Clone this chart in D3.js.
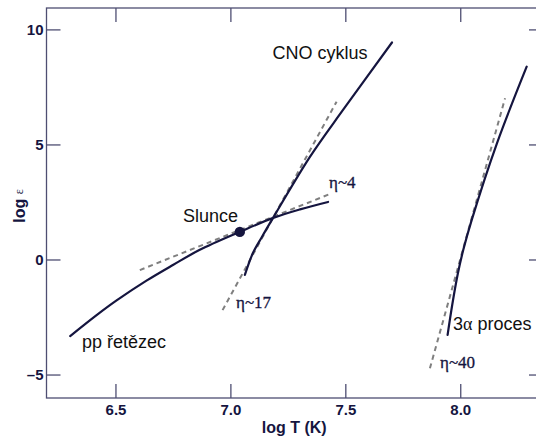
<!DOCTYPE html>
<html><head><meta charset="utf-8">
<script src="https://cdn.jsdelivr.net/npm/d3@7"></script>
<style>
body{margin:0;background:#fff}
svg{display:block;font-family:"Liberation Sans",Arial,sans-serif}
</style></head>
<body><svg id="c" width="536" height="439"></svg>
<script>
// ---- data (log T, log epsilon) ----
const ppT      = [6.303, 6.418, 6.505, 6.635, 6.750, 6.867, 7.041, 7.189, 7.303, 7.425];
const ppLogE   = [-3.33, -2.42, -1.78, -0.92, -0.24, 0.42, 1.20, 1.82, 2.18, 2.50];
const cnoT     = [7.063, 7.098, 7.137, 7.185, 7.346, 7.490, 7.703];
const cnoLogE  = [-0.67, 0.28, 0.98, 1.80, 4.46, 6.50, 9.43];
const taT      = [7.945, 7.965, 7.990, 8.013, 8.050, 8.160, 8.289];
const taLogE   = [-3.28, -1.98, -0.59, 0.41, 1.72, 5.06, 8.38];
// tangent (eta) lines: [T0, logE0, T1, logE1]
const etaPP    = [6.606, -0.46, 7.429, 2.83];
const etaCNO   = [6.966, -2.20, 7.462, 6.86];
const etaTA    = [7.868, -4.73, 8.195, 7.01];
const sun      = [7.041, 1.20];
const xTicks   = [6.5, 7.0, 7.5, 8.0];
const yTicks   = [-5, 0, 5, 10];

const navy = "#15153f", axisCol = "#4e4e72", dashCol = "#7f7f7f";
const svg = d3.select("#c");
const x = d3.scaleLinear().domain([6.2, 8.36]).range([46.5, 543]);
const y = d3.scaleLinear().domain([-6.02, 10.93]).range([398, 8]);
const [x0, x1] = x.range(), [y0, y1] = y.range();

// frame
svg.append("rect").attr("x", x0).attr("y", y1).attr("width", x1 - x0).attr("height", y0 - y1)
  .attr("fill", "none").attr("stroke", axisCol).attr("stroke-width", 1.3);

function styleAxis(g){
  g.select(".domain").remove();
  g.selectAll(".tick line").attr("stroke", axisCol).attr("stroke-width", 1.3);
  g.selectAll(".tick text").attr("fill", navy).attr("font-size", 15).attr("font-weight", "bold")
    .attr("font-family", "Liberation Sans, Arial, sans-serif");
}
const fmtX = d3.format(".1f");
const fmtY = d => d < 0 ? "\u2013" + Math.abs(d) : String(d);
svg.append("g").attr("transform", `translate(0,${y0})`)
  .call(d3.axisBottom(x).tickValues(xTicks).tickFormat(fmtX).tickSizeInner(-14).tickSizeOuter(0).tickPadding(6))
  .call(styleAxis);
svg.append("g").attr("transform", `translate(0,${y1})`)
  .call(d3.axisTop(x).tickValues(xTicks).tickFormat("").tickSizeInner(-14).tickSizeOuter(0))
  .call(styleAxis);
svg.append("g").attr("transform", `translate(${x0},0)`)
  .call(d3.axisLeft(y).tickValues(yTicks).tickFormat(fmtY).tickSizeInner(-14).tickSizeOuter(0).tickPadding(3))
  .call(styleAxis);
svg.append("g").attr("transform", `translate(${x1},0)`)
  .call(d3.axisRight(y).tickValues(yTicks).tickFormat("").tickSizeInner(-14).tickSizeOuter(0))
  .call(styleAxis);

// axis titles
svg.append("text").attr("x", (x0 + x1) / 2 - 0.5).attr("y", 433).attr("text-anchor", "middle")
  .attr("font-size", 16).attr("font-weight", "bold").attr("fill", navy).text("log T (K)");
const yt = svg.append("text").attr("transform", `translate(25,${(y0 + y1) / 2 + 3}) rotate(-90)`)
  .attr("text-anchor", "middle").attr("fill", navy);
yt.append("tspan").attr("font-size", 16).attr("font-weight", "bold").text("log ");
yt.append("tspan").attr("font-size", 12).attr("font-family", "Liberation Serif, Times New Roman, serif")
  .attr("dy", -2).text("\u03b5");

// dashed tangents
[etaPP, etaCNO, etaTA].forEach(e => {
  svg.append("line").attr("x1", x(e[0])).attr("y1", y(e[1])).attr("x2", x(e[2])).attr("y2", y(e[3]))
    .attr("stroke", dashCol).attr("stroke-width", 2).attr("stroke-dasharray", "5,4");
});

// curves
const line = d3.line().x(d => x(d[0])).y(d => y(d[1])).curve(d3.curveCatmullRom.alpha(0.5));
[[ppT, ppLogE], [cnoT, cnoLogE], [taT, taLogE]].forEach(([t, e]) => {
  svg.append("path").datum(t.map((v, i) => [v, e[i]])).attr("d", line)
    .attr("fill", "none").attr("stroke", navy).attr("stroke-width", 2.2).attr("stroke-linecap", "round");
});

// sun
svg.append("circle").attr("cx", x(sun[0])).attr("cy", y(sun[1])).attr("r", 5.2).attr("fill", navy);

// labels
const lab = (px, py, txt, serif, size) => svg.append("text").attr("x", px).attr("y", py)
  .attr("font-size", size || 18).attr("fill", serif ? navy : "#111")
  .attr("font-family", serif ? "Liberation Serif, Times New Roman, serif" : "Liberation Sans, Arial, sans-serif")
  .text(txt);
lab(272.5, 58.5, "CNO cyklus");
lab(183, 221.5, "Slunce");
lab(82, 348, "pp \u0159et\u011bzec");
const ta = lab(453, 330, "");
ta.append("tspan").text("3");
ta.append("tspan").attr("font-family", "Liberation Serif, Times New Roman, serif").text("\u03b1");
ta.append("tspan").text(" proces");
lab(329, 188, "\u03b7~4", true, 17).attr("stroke", navy).attr("stroke-width", 0.3);
lab(236, 308, "\u03b7~17", true, 17).attr("stroke", navy).attr("stroke-width", 0.3);
lab(440, 368, "\u03b7~40", true, 17).attr("stroke", navy).attr("stroke-width", 0.3);
</script></body></html>
